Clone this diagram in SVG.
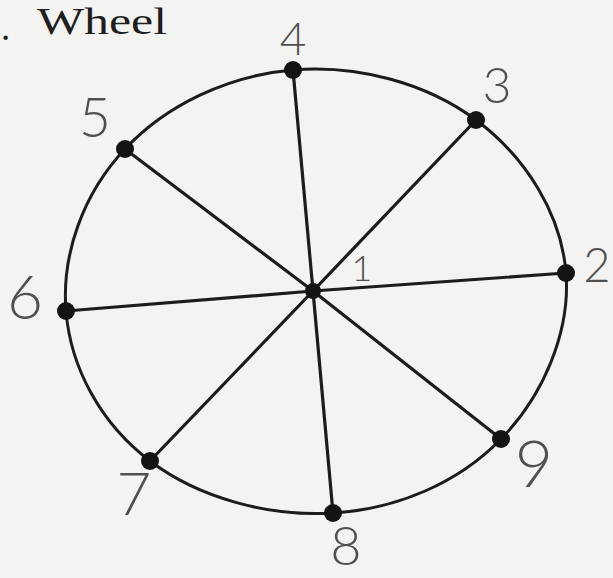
<svg xmlns="http://www.w3.org/2000/svg" width="613" height="578" viewBox="0 0 613 578">
<style>
.bg{fill:#f3f3f1}
.rim{fill:none;stroke:#1c1c1c;stroke-width:3}
.spoke{stroke:#1c1c1c;stroke-width:3.2;stroke-linecap:round}
.dot{fill:#141414}
.lbl{font-family:Lato,"Open Sans","DejaVu Sans",sans-serif;font-weight:300;fill:#505050;text-anchor:middle}
.title{font-family:"Liberation Serif","DejaVu Serif",serif;font-size:37px;fill:#1e1e1e}
</style>
<rect class="bg" x="0" y="0" width="613" height="578"/>
<text class="title" y="34"><tspan x="1" y="40">.</tspan><tspan x="37" y="34" textLength="130" lengthAdjust="spacingAndGlyphs">Wheel</tspan></text>
<g id="connectors">
<path class="rim" d="M293,70 C357.4,64.7 425.9,82.8 476,120 C526.1,157.2 561.4,214.5 566,273 C570.6,331.5 543.7,395 501,439 C458.3,483 397.4,509 333,513 C268.6,517 199,498 150,461 C101,424 70.6,368.2 66,311 C61.4,253.8 83.4,193.2 125,149 C166.6,104.8 228.6,75.3 293,70 Z"/>
<line class="spoke" x1="313" y1="291" x2="566" y2="273"/>
<line class="spoke" x1="313" y1="291" x2="476" y2="120"/>
<line class="spoke" x1="313" y1="291" x2="293" y2="70"/>
<line class="spoke" x1="313" y1="291" x2="125" y2="149"/>
<line class="spoke" x1="313" y1="291" x2="66" y2="311"/>
<line class="spoke" x1="313" y1="291" x2="150" y2="461"/>
<line class="spoke" x1="313" y1="291" x2="333" y2="513"/>
<line class="spoke" x1="313" y1="291" x2="501" y2="439"/>
</g>
<g id="n1"><circle class="dot" cx="313" cy="291" r="8"/><text class="lbl" x="362" y="281" font-size="36">1</text></g>
<g id="n2"><circle class="dot" cx="566" cy="273" r="9"/><text class="lbl" x="597" y="282" font-size="47">2</text></g>
<g id="n3"><circle class="dot" cx="476" cy="120" r="9"/><text class="lbl" x="497" y="103" font-size="50">3</text></g>
<g id="n4"><circle class="dot" cx="293" cy="70" r="9"/><text class="lbl" x="293" y="55" font-size="46">4</text></g>
<g id="n5"><circle class="dot" cx="125" cy="149" r="9"/><text class="lbl" x="95" y="137" font-size="55">5</text></g>
<g id="n6"><circle class="dot" cx="66" cy="311" r="9"/><text class="lbl" x="25" y="319" font-size="62">6</text></g>
<g id="n7"><circle class="dot" cx="150" cy="461" r="9"/><text class="lbl" x="134" y="515" font-size="60">7</text></g>
<g id="n8"><circle class="dot" cx="333" cy="513" r="9"/><text class="lbl" x="346" y="565" font-size="54">8</text></g>
<g id="n9"><circle class="dot" cx="501" cy="439" r="9"/><text class="lbl" x="534" y="487" font-size="66">9</text></g>
</svg>
